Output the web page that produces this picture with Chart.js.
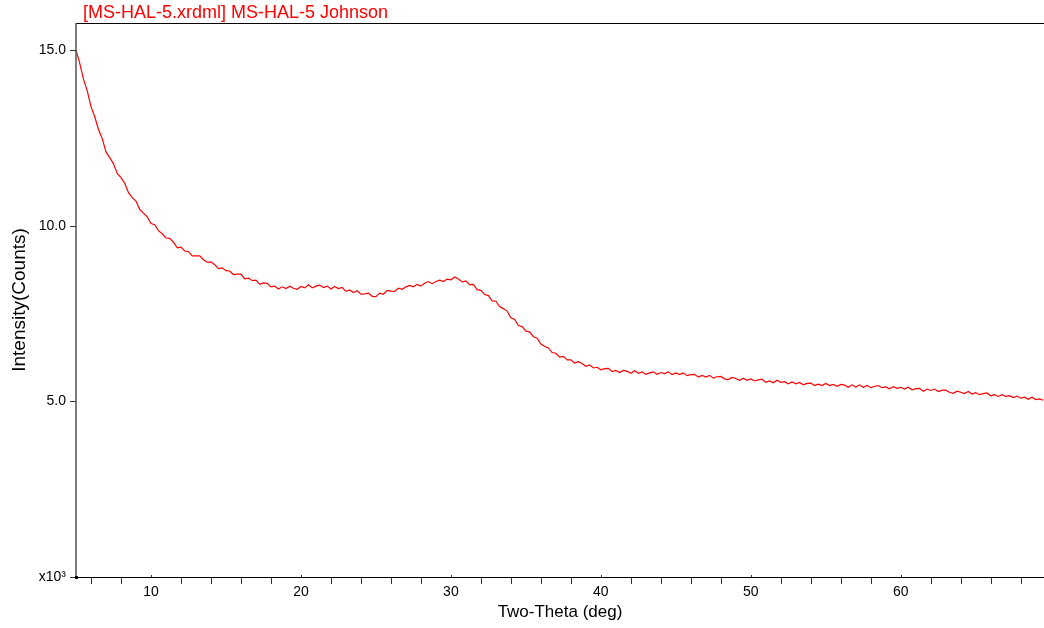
<!DOCTYPE html>
<html lang="en">
<head>
    <meta charset="UTF-8">
    <title>MS-HAL-5 Johnson</title>
    <script src="https://cdn.jsdelivr.net/npm/chart.js@4.4.0/dist/chart.umd.min.js"></script>
    <style>
        html, body { margin: 0; padding: 0; background: #fff; }
        canvas { display: block; }
    </style>
</head>
<body>
    <canvas id="scan" width="1044" height="628"></canvas>

    <script>
        // scan grid (deg)
        const twoThetaStart = 5;
        const twoThetaStep = 0.25;

        // intensity in thousands of counts, one value per step
        const intensity = [
            15.00, 14.62, 14.17, 13.84, 13.39, 13.10, 12.74, 12.48, 12.10, 11.94,
            11.76, 11.49, 11.37, 11.21, 10.94, 10.80, 10.70, 10.46, 10.36, 10.25,
            10.06, 10.03, 9.86, 9.77, 9.65, 9.64, 9.53, 9.37, 9.39, 9.28,
            9.26, 9.14, 9.14, 9.14, 9.03, 8.96, 8.97, 8.89, 8.78, 8.80,
            8.72, 8.71, 8.61, 8.62, 8.62, 8.49, 8.51, 8.44, 8.45, 8.33,
            8.37, 8.36, 8.26, 8.28, 8.20, 8.26, 8.21, 8.28, 8.22, 8.19,
            8.27, 8.23, 8.32, 8.23, 8.28, 8.31, 8.24, 8.28, 8.20, 8.27,
            8.21, 8.24, 8.13, 8.17, 8.10, 8.15, 8.05, 8.06, 8.08, 7.99,
            7.98, 8.08, 8.05, 8.16, 8.14, 8.13, 8.22, 8.19, 8.26, 8.30,
            8.26, 8.33, 8.28, 8.36, 8.41, 8.35, 8.41, 8.45, 8.41, 8.48,
            8.46, 8.54, 8.48, 8.40, 8.43, 8.32, 8.33, 8.18, 8.16, 8.04,
            8.01, 7.86, 7.85, 7.70, 7.64, 7.57, 7.38, 7.33, 7.16, 7.13,
            7.00, 6.98, 6.84, 6.80, 6.63, 6.57, 6.52, 6.39, 6.37, 6.26,
            6.28, 6.18, 6.18, 6.09, 6.13, 6.08, 6.00, 6.04, 5.95, 5.97,
            5.90, 5.93, 5.94, 5.85, 5.88, 5.82, 5.88, 5.86, 5.80, 5.87,
            5.80, 5.84, 5.77, 5.81, 5.84, 5.77, 5.82, 5.79, 5.84, 5.76,
            5.81, 5.76, 5.81, 5.73, 5.76, 5.77, 5.69, 5.74, 5.69, 5.74,
            5.66, 5.70, 5.71, 5.64, 5.62, 5.68, 5.65, 5.60, 5.66, 5.60,
            5.64, 5.58, 5.61, 5.63, 5.54, 5.58, 5.53, 5.60, 5.54, 5.56,
            5.50, 5.55, 5.50, 5.54, 5.47, 5.51, 5.52, 5.45, 5.49, 5.45,
            5.51, 5.45, 5.48, 5.43, 5.48, 5.46, 5.40, 5.47, 5.41, 5.47,
            5.40, 5.45, 5.39, 5.43, 5.45, 5.39, 5.41, 5.36, 5.42, 5.37,
            5.40, 5.35, 5.40, 5.33, 5.36, 5.37, 5.29, 5.35, 5.31, 5.35,
            5.28, 5.32, 5.32, 5.26, 5.23, 5.29, 5.26, 5.22, 5.28, 5.21,
            5.25, 5.19, 5.22, 5.24, 5.16, 5.19, 5.14, 5.19, 5.14, 5.16,
            5.11, 5.15, 5.09, 5.12, 5.06, 5.12, 5.05, 5.07, 5.03
        ];

        const yTicks = [0, 5, 10, 15];
        const yTickLabels = ['x10\u00b3', '5.0', '10.0', '15.0'];
        const xMajorTicks = [10, 20, 30, 40, 50, 60];
        const xMinorTicks = [6, 8, 12, 14, 16, 18, 22, 24, 26, 28, 32, 34, 36, 38,
                             42, 44, 46, 48, 52, 54, 56, 58, 62, 64, 66, 68];

        const points = intensity.map((v, i) => ({ x: twoThetaStart + i * twoThetaStep, y: v }));

        const fontFamily = '"Liberation Sans", Arial, sans-serif';

        // plot frame, tick marks and the scan name above the plot
        const framePlugin = {
            id: 'frame',
            afterDraw(chart) {
                const c = chart.ctx;
                const a = chart.chartArea;
                const xs = chart.scales.x;
                const ys = chart.scales.y;
                c.save();

                c.strokeStyle = '#000';
                c.lineWidth = 1;
                c.beginPath();
                c.moveTo(a.left, a.top + 0.5);
                c.lineTo(a.right, a.top + 0.5);
                c.moveTo(a.left, a.bottom + 0.5);
                c.lineTo(a.right, a.bottom + 0.5);
                c.stroke();

                c.strokeStyle = '#555';
                c.lineWidth = 1.5;
                c.beginPath();
                c.moveTo(a.left, a.top);
                c.lineTo(a.left, a.bottom);
                c.stroke();

                c.strokeStyle = '#333';
                c.lineWidth = 1;
                c.beginPath();
                yTicks.forEach(v => {
                    const py = Math.round(ys.getPixelForValue(v)) + 0.5;
                    c.moveTo(a.left - 6, py);
                    c.lineTo(a.left, py);
                });
                xMinorTicks.forEach(v => {
                    const px = Math.round(xs.getPixelForValue(v)) + 0.5;
                    c.moveTo(px, a.bottom + 1);
                    c.lineTo(px, a.bottom + 7);
                });
                xMajorTicks.forEach(v => {
                    const px = Math.round(xs.getPixelForValue(v)) + 0.5;
                    c.moveTo(px, a.bottom - 2);
                    c.lineTo(px, a.bottom);
                });
                c.stroke();

                c.fillStyle = '#000';
                c.beginPath();
                c.arc(a.left + 0.5, a.bottom + 0.5, 1.8, 0, Math.PI * 2);
                c.fill();

                c.fillStyle = '#ff0000';
                c.font = '18px ' + fontFamily;
                c.textBaseline = 'alphabetic';
                c.textAlign = 'left';
                c.fillText('[MS-HAL-5.xrdml] MS-HAL-5 Johnson', 83, 18);
                c.restore();
            }
        };

        new Chart(document.getElementById('scan'), {
            type: 'line',
            data: {
                datasets: [{
                    data: points,
                    borderColor: '#ff0000',
                    borderWidth: 1.2,
                    pointRadius: 0,
                    tension: 0,
                    fill: false
                }]
            },
            options: {
                responsive: false,
                animation: false,
                layout: { padding: { top: 23, right: 0, left: 0, bottom: 0 } },
                plugins: {
                    legend: { display: false },
                    tooltip: { enabled: false }
                },
                scales: {
                    x: {
                        type: 'linear',
                        min: 5,
                        max: 69.55,
                        grid: { display: false, drawTicks: false },
                        border: { display: false },
                        afterBuildTicks: s => { s.ticks = xMajorTicks.map(v => ({ value: v })); },
                        afterFit: s => { s.height = 51; },
                        ticks: {
                            color: '#000',
                            padding: 7,
                            maxRotation: 0,
                            font: { family: fontFamily, size: 14 },
                            callback: v => String(v)
                        },
                        title: {
                            display: true,
                            text: 'Two-Theta (deg)',
                            color: '#000',
                            padding: { top: 0, bottom: 5 },
                            font: { family: fontFamily, size: 17 }
                        }
                    },
                    y: {
                        min: 0,
                        max: 15.77,
                        grid: { display: false, drawTicks: false },
                        border: { display: false },
                        afterBuildTicks: s => { s.ticks = yTicks.map(v => ({ value: v })); },
                        afterFit: s => { s.width = 76; },
                        ticks: {
                            color: '#000',
                            padding: 10,
                            font: { family: fontFamily, size: 14 },
                            callback: v => yTickLabels[yTicks.indexOf(v)]
                        },
                        title: {
                            display: true,
                            text: 'Intensity(Counts)',
                            color: '#000',
                            padding: { top: 8, bottom: 0 },
                            font: { family: fontFamily, size: 19 }
                        }
                    }
                }
            },
            plugins: [framePlugin]
        });
    </script>
</body>
</html>
